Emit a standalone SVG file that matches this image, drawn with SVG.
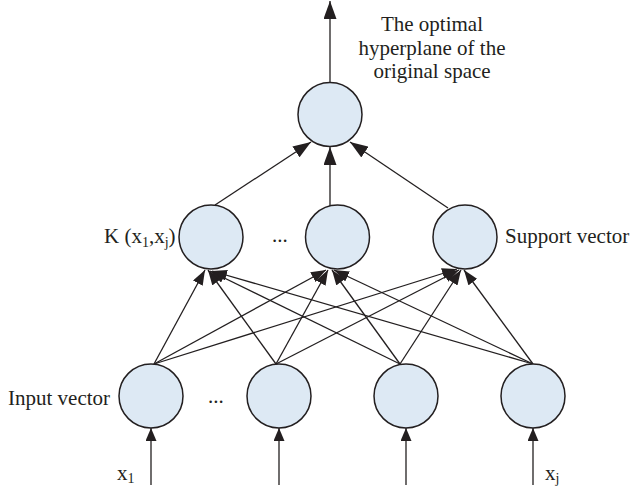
<svg xmlns="http://www.w3.org/2000/svg" width="634" height="490" viewBox="0 0 634 490">
<defs>
<style>
.node{fill:#dde9f4;stroke:#231f20;stroke-width:1.5}
.edge{stroke:#231f20;stroke-width:1.3;fill:none}
.lbl{font-family:"Liberation Serif","Times New Roman",serif;font-size:21px;fill:#231f20}
.sub{font-size:14px}
</style>
<marker id="big" markerUnits="userSpaceOnUse" markerWidth="18" markerHeight="13" refX="18" refY="6.5" orient="auto"><path d="M0,0 L18,6.5 L0,13 z" fill="#231f20"/></marker>
<marker id="mid" markerUnits="userSpaceOnUse" markerWidth="15" markerHeight="11" refX="15" refY="5.5" orient="auto"><path d="M0,0 L15,5.5 L0,11 z" fill="#231f20"/></marker>
<marker id="sm" markerUnits="userSpaceOnUse" markerWidth="13" markerHeight="11" refX="13" refY="5.5" orient="auto"><path d="M0,0 L13,5.5 L0,11 z" fill="#231f20"/></marker>
</defs>
<g id="connectors">
<line class="edge" x1="330" y1="82" x2="330" y2="1" marker-end="url(#big)"/>
<line class="edge" x1="215" y1="205" x2="311" y2="142" marker-end="url(#big)"/>
<line class="edge" x1="330" y1="206" x2="330" y2="147" marker-end="url(#big)"/>
<line class="edge" x1="448" y1="208" x2="350" y2="142" marker-end="url(#big)"/>
<line class="edge" x1="154" y1="364" x2="205" y2="270" marker-end="url(#mid)"/>
<line class="edge" x1="154" y1="364" x2="326" y2="270" marker-end="url(#mid)"/>
<line class="edge" x1="154" y1="364" x2="457" y2="269" marker-end="url(#mid)"/>
<line class="edge" x1="276" y1="364" x2="208" y2="270" marker-end="url(#mid)"/>
<line class="edge" x1="276" y1="364" x2="328" y2="270" marker-end="url(#mid)"/>
<line class="edge" x1="276" y1="364" x2="459" y2="270" marker-end="url(#mid)"/>
<line class="edge" x1="400" y1="364" x2="210" y2="271" marker-end="url(#mid)"/>
<line class="edge" x1="400" y1="364" x2="332" y2="270" marker-end="url(#mid)"/>
<line class="edge" x1="400" y1="364" x2="461" y2="270" marker-end="url(#mid)"/>
<line class="edge" x1="533" y1="364" x2="212" y2="271" marker-end="url(#mid)"/>
<line class="edge" x1="533" y1="364" x2="334" y2="270" marker-end="url(#mid)"/>
<line class="edge" x1="533" y1="364" x2="464" y2="270" marker-end="url(#mid)"/>
<line class="edge" x1="151" y1="485" x2="151" y2="428" marker-end="url(#sm)"/>
<line class="edge" x1="279" y1="485" x2="279" y2="428" marker-end="url(#sm)"/>
<line class="edge" x1="406" y1="485" x2="406" y2="428" marker-end="url(#sm)"/>
<line class="edge" x1="533" y1="485" x2="533" y2="428" marker-end="url(#sm)"/>
</g>
<g id="output">
<circle class="node" cx="330" cy="114.5" r="32"/>
<text class="lbl" text-anchor="middle"><tspan x="432" y="31">The optimal</tspan><tspan x="432" y="54.5">hyperplane of the</tspan><tspan x="432" y="78">original space</tspan></text>
</g>
<g id="kernel1">
<circle class="node" cx="211" cy="237" r="32"/>
<text class="lbl" x="104" y="243">K (x<tspan class="sub" dy="4">1</tspan><tspan dy="-4">,x</tspan><tspan class="sub" dy="4">j</tspan><tspan dy="-4">)</tspan></text>
</g>
<text class="lbl" x="272" y="242">...</text>
<g id="kernel2">
<circle class="node" cx="337.5" cy="237" r="32"/>
</g>
<g id="kernel3">
<circle class="node" cx="465" cy="237" r="32"/>
<text class="lbl" x="505" y="243">Support vector</text>
</g>
<g id="input1">
<circle class="node" cx="151" cy="396" r="32"/>
<text class="lbl" x="8" y="405">Input vector</text>
<text class="lbl" x="117" y="480">x<tspan class="sub" dy="3">1</tspan></text>
</g>
<text class="lbl" x="208" y="403">...</text>
<g id="input2">
<circle class="node" cx="279" cy="396" r="32"/>
</g>
<g id="input3">
<circle class="node" cx="406" cy="396" r="32"/>
</g>
<g id="input4">
<circle class="node" cx="533" cy="396" r="32"/>
<text class="lbl" x="545" y="480">x<tspan class="sub" dy="3">j</tspan></text>
</g>
</svg>
